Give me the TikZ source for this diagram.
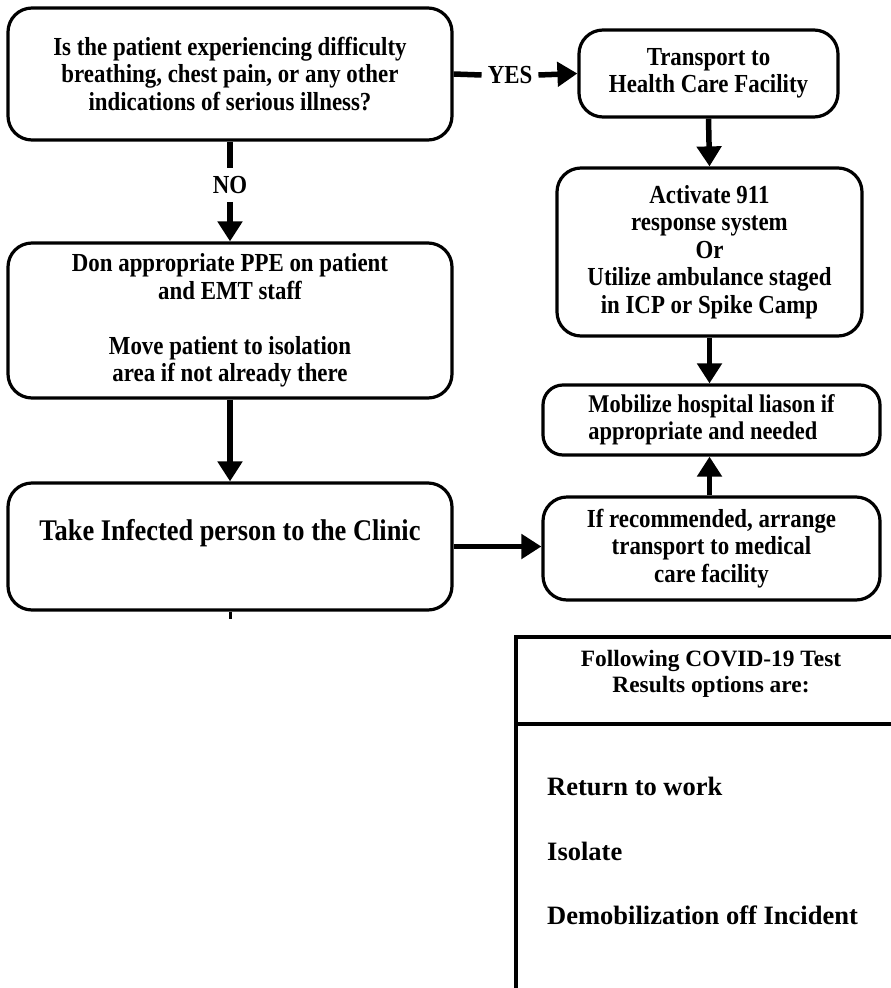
\documentclass[tikz,border=0pt]{standalone}
\usepackage{fontspec}
\setmainfont{Liberation Serif}
\newfontfamily\condfont{Liberation Serif}[FakeStretch=0.88]
\usetikzlibrary{arrows.meta}
\tikzset{
  x=1pt, y=-1pt,
  fbox/.style={draw, line width=3.2pt, rounded corners=24pt, align=center,
    inner sep=0pt, font=\condfont\bfseries\fontsize{26}{27.5}\selectfont},
  conn/.style={line width=5.5pt},
  arr/.style={line width=5.5pt, -{Triangle[length=20pt,width=24pt]}},
  lbl/.style={font=\condfont\bfseries\fontsize{26}{27.5}\selectfont, inner xsep=6pt, inner ysep=8pt},
  res/.style={font=\bfseries\fontsize{26.5}{28}\selectfont, anchor=west, inner sep=0pt},
}
\begin{document}
\begin{tikzpicture}
\clip (0,0) rectangle (891,988);
\fill[white] (0,0) rectangle (891,988);

\node[fbox, minimum width=444pt, minimum height=132pt] (A) at (230,74)
  {Is the patient experiencing difficulty\\breathing, chest pain, or any other\\indications of serious illness?};
\node[fbox, minimum width=259pt, minimum height=87pt] (B) at (708.5,73.5)
  {Transport to\\Health Care Facility};
\node[fbox, minimum width=305pt, minimum height=168pt] (C) at (709.5,252)
  {Activate 911\\response system\\Or\\Utilize ambulance staged\\in ICP or Spike Camp};
\node[fbox, minimum width=337pt, minimum height=70pt, align=left, rounded corners=20pt,
  font=\condfont\bfseries\fontsize{25.5}{27}\selectfont] (D) at (711.5,420)
  {Mobilize hospital liason if\\appropriate and needed};
\node[fbox, minimum width=337pt, minimum height=103pt] (E) at (711.5,548.5)
  {If recommended, arrange\\transport to medical\\care facility};
\node[fbox, minimum width=444pt, minimum height=155pt] (G) at (230,320.5)
  {Don appropriate PPE on patient\\and EMT staff\\[27.5pt]Move patient to isolation\\area if not already there};
\node[fbox, minimum width=444pt, minimum height=127pt] (F) at (230,546.5) {};
\node[font=\condfont\bfseries\fontsize{30}{32}\selectfont, inner sep=0pt] (Ft) at (230,533)
  {Take Infected person to the Clinic};

% YES / NO
\node[lbl] (yes) at (510,75) {YES};
\node[lbl] (no) at (230,185) {NO};
\draw[conn] (A.east) -- (yes.west);
\draw[arr] (yes.east) -- (B.west);
\draw[conn] (A.south) -- (no.north);
\draw[arr] (no.south) -- (G.north);

\draw[arr] (B.south) -- (C.north);
\draw[arr] (C.south) -- (D.north -| C.south);
\draw[arr] (E.north -| C.south) -- (D.south -| C.south);
\draw[arr] (G.south) -- (F.north);
\draw[arr] (F.east) -- (E.west |- F.east);
\coordinate (Fend) at ([yshift=-7pt]F.south);
\draw[line width=3pt] (F.south) -- (Fend);

% results box
\coordinate (Htl) at (516,637);
\coordinate (Htr) at (895,637);
\coordinate (Hbl) at (516,995);
\coordinate (Hdl) at (516,724);
\coordinate (Hdr) at (895,724);
\draw[line width=3.2pt] (Hbl) -- (Htl) -- (Htr);
\draw[line width=3.2pt] (Hdl) -- (Hdr);
\node[font=\bfseries\fontsize{23.4}{26}\selectfont, align=center, inner sep=0pt] (Hh) at (711,674)
  {Following COVID-19 Test\\Results options are:};
\node[res] (r1) at (547,786) {Return to work};
\node[res] (r2) at (547,851) {Isolate};
\node[res] (r3) at (547,915) {Demobilization off Incident};
\end{tikzpicture}
\end{document}
